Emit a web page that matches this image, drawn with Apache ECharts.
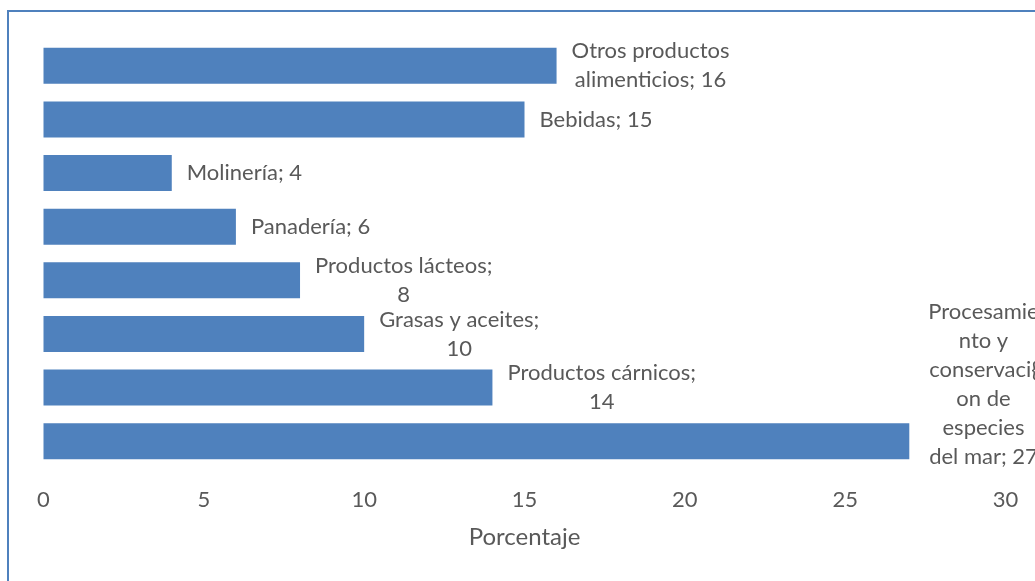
<!DOCTYPE html>
<html>
<head>
<meta charset="utf-8">
<script src="https://cdn.jsdelivr.net/npm/echarts@6/dist/echarts.min.js"></script>
<style>
html,body{margin:0;padding:0;background:#fff;}
#chart{width:1035px;height:581px;}
</style>
</head>
<body>
<div id="chart"></div>
<script>
// Data
var categories = [
  "Otros productos alimenticios",
  "Bebidas",
  "Molinería",
  "Panadería",
  "Productos lácteos",
  "Grasas y aceites",
  "Productos cárnicos",
  "Procesamiento y conservaci{on de especies del mar"
];
var values = [16, 15, 4, 6, 8, 10, 14, 27];
// Data label text as wrapped in the original
var labelLines = [
  ["Otros productos", "alimenticios; 16"],
  ["Bebidas; 15"],
  ["Molinería; 4"],
  ["Panadería; 6"],
  ["Productos lácteos;", "8"],
  ["Grasas y aceites;", "10"],
  ["Productos cárnicos;", "14"],
  ["Procesamie", "nto y", "conservaci{", "on de", "especies", "del mar; 27"]
];
var xTicks = [0, 5, 10, 15, 20, 25, 30];
var axisTitle = "Porcentaje";

var FONT_FAMILY = "Lato";
var FONT_SIZE = 22;
var TITLE_SIZE = 24;
var LINE_H = 29;
var TEXT_COLOR = "#595959";
var BAR_COLOR = "#4f81bd";

var cv = document.createElement("canvas").getContext("2d");
cv.font = FONT_SIZE + "px " + FONT_FAMILY;
function maxW(lines){
  var m = 0;
  lines.forEach(function(l){ m = Math.max(m, cv.measureText(l).width); });
  return m;
}

var seriesData = values.map(function(v, i){
  var lines = labelLines[i];
  var w = maxW(lines);
  var last = (i === labelLines.length - 1);
  return {
    value: v,
    label: {
      offset: [w / 2 + (last ? 4 : 0), last ? -57 : 0]
    }
  };
});

var chart = echarts.init(document.getElementById("chart"), null, {renderer: "canvas"});
chart.setOption({
  backgroundColor: "#ffffff",
  animation: false,
  textStyle: {fontFamily: FONT_FAMILY},
  graphic: [{
    type: "rect",
    shape: {x: 8, y: 11, width: 1200, height: 800},
    style: {fill: "none", stroke: "#4f81bd", lineWidth: 2},
    silent: true,
    z: 100
  }],
  grid: {left: 43.5, right: 29.5, top: 39, bottom: 113, containLabel: false},
  xAxis: {
    type: "value",
    min: 0, max: 30, interval: 5,
    axisLine: {show: false},
    axisTick: {show: false},
    splitLine: {show: false},
    axisLabel: {
      color: TEXT_COLOR, fontSize: FONT_SIZE, margin: 21, fontFamily: FONT_FAMILY,
      formatter: function(v){ return xTicks.indexOf(v) >= 0 ? String(v) : ""; }
    },
    name: axisTitle,
    nameLocation: "middle",
    nameGap: 57,
    nameTextStyle: {color: TEXT_COLOR, fontSize: TITLE_SIZE, fontFamily: FONT_FAMILY}
  },
  yAxis: {
    type: "category",
    data: categories,
    inverse: true,
    axisLine: {show: false},
    axisTick: {show: false},
    axisLabel: {show: false},
    splitLine: {show: false}
  },
  series: [{
    type: "bar",
    data: seriesData,
    barCategoryGap: "33%",
    itemStyle: {color: BAR_COLOR},
    label: {
      show: true,
      position: "right",
      distance: 15,
      align: "center",
      verticalAlign: "middle",
      color: TEXT_COLOR,
      fontSize: FONT_SIZE,
      fontFamily: FONT_FAMILY,
      lineHeight: LINE_H,
      formatter: function(p){ return labelLines[p.dataIndex].join("\n"); }
    }
  }]
});
</script>
</body>
</html>
